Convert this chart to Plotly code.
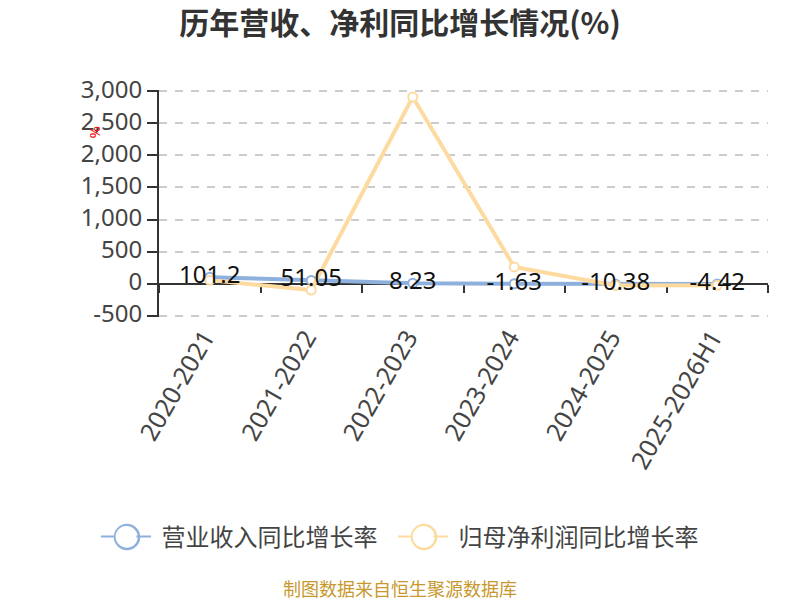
import plotly.graph_objects as go

categories = ["2020-2021", "2021-2022", "2022-2023", "2023-2024", "2024-2025", "2025-2026H1"]
revenue_growth = [101.2, 51.05, 8.23, -1.63, -10.38, -4.42]
profit_growth = [55, -100, 2910, 260, -30, -25]
revenue_labels = ["101.2", "51.05", "8.23", "-1.63", "-10.38", "-4.42"]
y_ticks = [-500, 0, 500, 1000, 1500, 2000, 2500, 3000]
y_tick_labels = ["-500", "0", "500", "1,000", "1,500", "2,000", "2,500", "3,000"]
series_names = ["\u00a0营业收入同比增长率\u00a0\u00a0", "\u00a0归母净利润同比增长率"]

BLUE = "#8eb0dc"
ORANGE = "#fddba0"
FONT = "'Noto Sans', 'Noto Sans CJK SC', sans-serif"
CJK = "'Noto Sans CJK SC', sans-serif"

H, W = 600, 800
top, bottom, left, right = 90, 283, 159, 32
dom_h = H - top - bottom
dom_w = W - left - right
y_range = [-520, 3020]
zero_frac = -y_range[0] / (y_range[1] - y_range[0])

fig = go.Figure()
# holds the category labels along the bottom
fig.add_trace(go.Scatter(x=categories, y=revenue_growth, mode="markers",
                         marker=dict(opacity=0), showlegend=False, hoverinfo="skip"))
for name, vals, col in [(series_names[0], revenue_growth, BLUE), (series_names[1], profit_growth, ORANGE)]:
    fig.add_trace(go.Scatter(
        x=categories, y=vals, xaxis="x2", name=name, mode="lines+markers", showlegend=False,
        line=dict(color=col, width=4),
        marker=dict(symbol="circle", size=9, color="white", line=dict(color=col, width=2)),
        hoverinfo="skip",
    ))
    # legend entry: thin line, white disc that opens the centre of the ring behind it
    fig.add_trace(go.Scatter(
        x=[None], y=[None], name=name, mode="lines+markers",
        line=dict(color=col, width=2),
        marker=dict(symbol="circle", size=16, color="white", line=dict(color="white", width=5)),
        hoverinfo="skip",
    ))
# labels on top of both lines
fig.add_trace(go.Scatter(x=categories, y=revenue_growth, xaxis="x2", mode="text", text=revenue_labels,
                         textposition="middle center",
                         textfont=dict(size=24, color="#111111", family=FONT),
                         showlegend=False, hoverinfo="skip"))


def ring(cx, cy, color, r=12):
    return dict(type="circle", xref="paper", yref="paper", layer="above",
                x0=(cx - r - left) / dom_w, x1=(cx + r - left) / dom_w,
                y0=1 - (cy + r - top) / dom_h, y1=1 - (cy - r - top) / dom_h,
                fillcolor="white", line=dict(color=color, width=2.5))


fig.update_layout(
    width=W, height=H, paper_bgcolor="white", plot_bgcolor="white",
    margin=dict(l=left, r=right, t=top, b=bottom, autoexpand=False),
    font=dict(family=FONT, color="#444444"),
    title=dict(text="<b>历年营收、净利同比增长情况(%)</b>", x=0.5, xanchor="center",
               y=1 - 23 / H, yanchor="middle",
               font=dict(size=30, color="#333333", family=CJK)),
    xaxis=dict(type="category", categoryorder="array", categoryarray=categories,
               range=[-0.5, 5.5], tickangle=-60, showgrid=False, zeroline=False,
               showline=False, ticks="", tickfont=dict(size=25, color="#444444"),
               ticklabelshift=-5, automargin=False),
    xaxis2=dict(type="category", categoryorder="array", categoryarray=categories,
                overlaying="x", anchor="free", position=zero_frac, side="bottom",
                range=[-0.5, 5.5], tickson="boundaries", ticks="outside", ticklen=8, tickwidth=2,
                tickcolor="#333333", showline=True, linecolor="#333333", linewidth=2,
                showticklabels=False, showgrid=False, zeroline=False, layer="below traces"),
    yaxis=dict(range=y_range, tickvals=y_ticks, ticktext=y_tick_labels,
               ticks="outside", ticklen=10, tickwidth=2, tickcolor="#333333",
               showline=True, linecolor="#333333", linewidth=2,
               showgrid=True, gridcolor="#cccccc", griddash="8px,8px", gridwidth=2, zeroline=False,
               tickfont=dict(size=24, color="#444444"), ticklabelshift=-2, automargin=False),
    legend=dict(orientation="h", x=(400 - left) / dom_w, xanchor="center",
                y=1 - (537 - top) / dom_h, yanchor="middle", bgcolor="rgba(0,0,0,0)",
                font=dict(size=24, color="#444444", family=CJK),
                itemwidth=50, itemsizing="trace", traceorder="normal"),
    shapes=[ring(127, 537, BLUE), ring(424, 537, ORANGE)],
    annotations=[
        dict(text="%", xref="paper", yref="paper", x=(96.5 - left) / dom_w,
             y=1 - (131.5 - top) / dom_h, showarrow=False, textangle=90,
             xanchor="center", yanchor="middle",
             font=dict(size=15, color="#ff0000", family=FONT)),
        dict(text="制图数据来自恒生聚源数据库", xref="paper", yref="paper",
             x=(400 - left) / dom_w, y=1 - (588 - top) / dom_h, showarrow=False,
             xanchor="center", yanchor="middle",
             font=dict(size=18, color="#c8982e", family=CJK)),
    ],
)

fig.write_html("out.html", config={"displayModeBar": False},
               post_script="document.body.style.margin='0';")
